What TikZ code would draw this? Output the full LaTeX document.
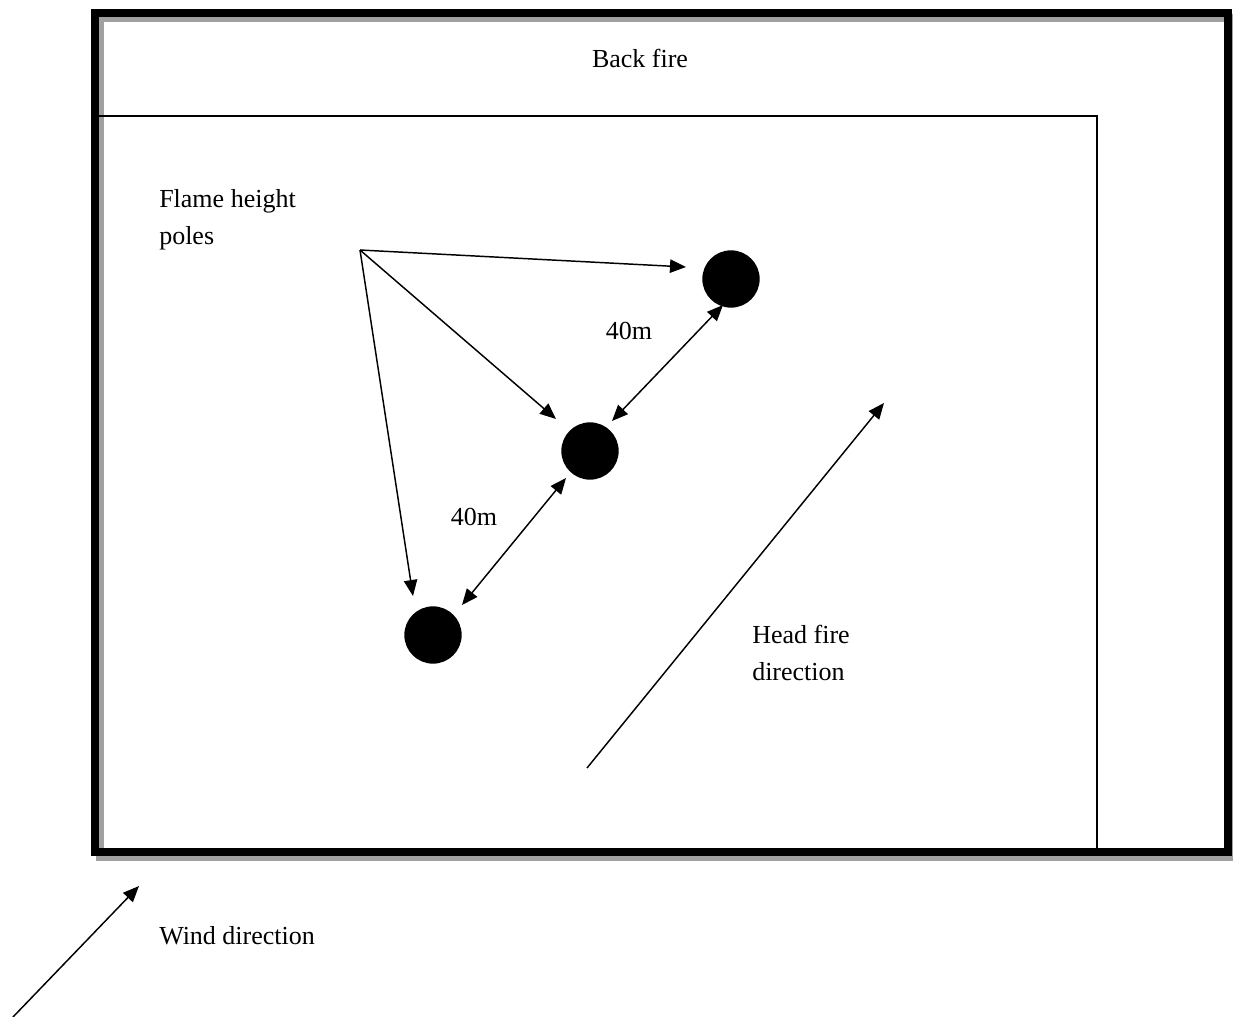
\documentclass[tikz,border=0pt]{standalone}
\usepackage{fontspec}
\setmainfont{Liberation Serif}
\usetikzlibrary{arrows.meta}

\begin{document}
\begin{tikzpicture}[x=0.75pt,y=0.75pt,yscale=-1,xscale=1,
  txt/.style={inner sep=0.75pt,font=\fontsize{19.5}{27.5}\selectfont},
  pole/.style={circle,fill=black,minimum size=43pt,inner sep=0pt},
  arr/.style={line width=1.1pt,-{Triangle[length=12pt,width=10pt]}},
  darr/.style={line width=1.1pt,{Triangle[length=12pt,width=10pt]}-{Triangle[length=12pt,width=10pt]}}]
\useasboundingbox (0,0) rectangle (1233,1017);

%Shape: Rectangle (frame shadow)
\draw [color={rgb,255:red,160;green,160;blue,160},line width=6pt]  (100,18) rectangle (1233,857) ;
%Shape: Rectangle (frame)
\draw [line width=6pt]  (95,13) rectangle (1228,852) ;
%Straight Lines (back fire line)
\draw [line width=1pt]   (99,116) -- (1097,116) -- (1097,848) ;

%Shape: Circle (poles)
\node [pole] (pole1) at (731,279) {};
\node [pole] (pole2) at (590,451) {};
\node [pole] (pole3) at (433,635) {};

\coordinate (apex) at (360,250);
\coordinate (tip1) at (686,267);
\coordinate (tip2) at (556,419);
\coordinate (tip3) at (413,596);
\coordinate (upA) at (723,305);
\coordinate (loA) at (612,421);
\coordinate (upB) at (566,478);
\coordinate (loB) at (462,605);
\coordinate (headS) at (587,768);
\coordinate (headE) at (884,403);
\coordinate (windS) at (13,1017);
\coordinate (windE) at (139,886);

%Straight Lines (pole arrows)
\draw [arr]  (apex) -- (tip1) ;
\draw [arr]  (apex) -- (tip2) ;
\draw [arr]  (apex) -- (tip3) ;
%Straight Lines (distances)
\draw [darr]  (loA) -- (upA) ;
\draw [darr]  (loB) -- (upB) ;
%Straight Lines (head fire)
\draw [arr]  (headS) -- (headE) ;
%Straight Lines (wind)
\draw [arr]  (windS) -- (windE) ;

% Text Node
\node [txt] (back) at (640,58) {Back fire};
% Text Node
\node [txt,anchor=west,align=left] (flame) at (158,220) {Flame height\\poles};
% Text Node
\node [txt] (distA) at (629,331) {40m};
% Text Node
\node [txt] (distB) at (474,517) {40m};
% Text Node
\node [txt,anchor=west,align=left] (head) at (751,653) {Head fire\\direction};
% Text Node
\node [txt,anchor=west] (wind) at (158,936) {Wind direction};
\end{tikzpicture}
\end{document}
